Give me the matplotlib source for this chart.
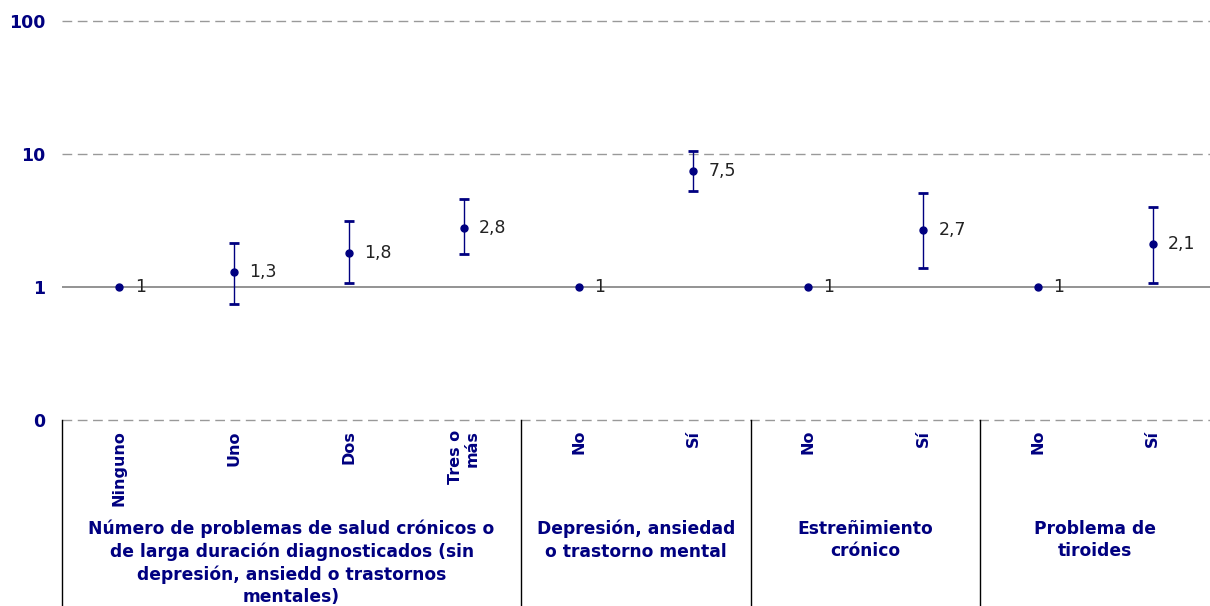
import numpy as np
import matplotlib.pyplot as plt
import matplotlib.transforms as mtransforms
from matplotlib.lines import Line2D

# datos
categorias = ['Ninguno', 'Uno', 'Dos', 'Tres o\nmás', 'No', 'Sí', 'No', 'Sí', 'No', 'Sí']
valores = [1, 1.3, 1.8, 2.8, 1, 7.5, 1, 2.7, 1, 2.1]
inferior = [np.nan, 0.75, 1.07, 1.77, np.nan, 5.27, np.nan, 1.39, np.nan, 1.07]
superior = [np.nan, 2.14, 3.13, 4.6, np.nan, 10.5, np.nan, 5.1, np.nan, 4.0]
etiquetas = ['1', '1,3', '1,8', '2,8', '1', '7,5', '1', '2,7', '1', '2,1']
grupos = ['Número de problemas de salud crónicos o\nde larga duración diagnosticados (sin\ndepresión, ansiedd o trastornos\nmentales)',
          'Depresión, ansiedad\no trastorno mental',
          'Estreñimiento\ncrónico',
          'Problema de\ntiroides']
grupo_n = [4, 2, 2, 2]

navy = '#000080'
fig = plt.figure(figsize=(12.1, 6.06), dpi=100)
ax = fig.add_axes([62/1210, 1-420/606, 1-62/1210, (420-21)/606])

x = np.arange(len(valores))
val = np.array(valores)
lo = np.array(inferior)
hi = np.array(superior)
ax.set_yscale('log')
ax.set_ylim(0.1, 100)
ax.set_xlim(-0.5, len(valores) - 0.5)

for yv in [0.1, 10, 100]:
    ax.axhline(yv, color='#999999', lw=1, ls=(0, (7, 4)), zorder=1, clip_on=False)
ax.axhline(1, color='#808080', lw=1.2, zorder=1)

m = ~np.isnan(lo)
ax.errorbar(x[m], val[m], yerr=[val[m] - lo[m], hi[m] - val[m]], fmt='none',
            ecolor=navy, elinewidth=1, capsize=3.5, capthick=2, zorder=2)
ax.plot(x, val, 'o', color=navy, ms=5, zorder=3)
for xi, v, t in zip(x, val, etiquetas):
    ax.annotate(t, (xi, v), xytext=(11, 0), textcoords='offset points',
                va='center', ha='left', fontsize=12.5, color='#222222')

ax.set_yticks([0.1, 1, 10, 100])
ax.set_yticklabels(['0', '1', '10', '100'], fontweight='bold', color=navy, fontsize=12.5)
ax.yaxis.set_minor_locator(plt.NullLocator())
ax.tick_params(axis='y', length=0, pad=12)
ax.set_xticks([])
for s in ax.spines.values():
    s.set_visible(False)

trans = mtransforms.blended_transform_factory(ax.transData, fig.transFigure)
for xi, c in zip(x, categorias):
    ax.text(xi, 1-430/606, c, transform=trans, rotation=90, ha='center', va='top',
            multialignment='right', fontsize=11.5, fontweight='bold', color=navy,
            linespacing=1.2)

inicio = -0.5
bordes = [inicio]
for g, n in zip(grupos, grupo_n):
    fin = inicio + n
    ax.text((inicio + fin) / 2, 1-520/606, g, transform=trans, ha='center', va='top',
            fontsize=12.3, fontweight='bold', color=navy, linespacing=1.3)
    bordes.append(fin)
    inicio = fin
for b in bordes[:-1]:
    fig.add_artist(Line2D([b, b], [0, 1-420/606], transform=trans, color='black', lw=1))

fig.savefig('out.png', dpi=100)
